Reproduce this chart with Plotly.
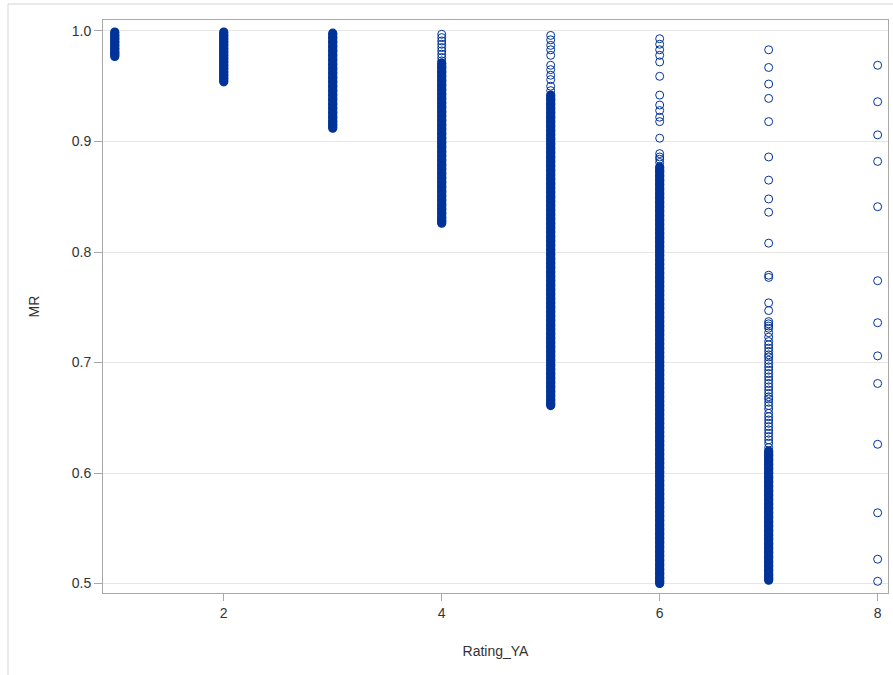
import plotly.graph_objects as go

# ---- data (MR by Rating_YA) ----
# dense, overlapping runs of observations (drawn as a continuous band)
r1_dense = [0.999, 0.996, 0.993, 0.990, 0.987, 0.984, 0.981, 0.979, 0.977]
r2_dense = [0.999, 0.996, 0.993, 0.990, 0.987, 0.984, 0.981, 0.978, 0.975, 0.972,
            0.969, 0.966, 0.963, 0.960, 0.957, 0.954]
r3_dense = [0.998, 0.994, 0.990, 0.986, 0.982, 0.978, 0.974, 0.970, 0.966, 0.962,
            0.958, 0.954, 0.950, 0.946, 0.942, 0.938, 0.934, 0.930, 0.926, 0.922,
            0.918, 0.915, 0.912]
r4_dense = [0.971, 0.967, 0.963, 0.959, 0.955, 0.951, 0.947, 0.943, 0.939, 0.935,
            0.931, 0.927, 0.923, 0.919, 0.915, 0.911, 0.907, 0.903, 0.899, 0.895,
            0.891, 0.887, 0.883, 0.879, 0.875, 0.871, 0.867, 0.863, 0.859, 0.855,
            0.851, 0.847, 0.843, 0.839, 0.835, 0.831, 0.828, 0.826]
r5_dense = [0.942, 0.938, 0.934, 0.930, 0.926, 0.922, 0.918, 0.914, 0.910, 0.906,
            0.902, 0.898, 0.894, 0.890, 0.886, 0.882, 0.878, 0.874, 0.870, 0.866,
            0.862, 0.858, 0.854, 0.850, 0.846, 0.842, 0.838, 0.834, 0.830, 0.826,
            0.822, 0.818, 0.814, 0.810, 0.806, 0.802, 0.798, 0.794, 0.790, 0.786,
            0.782, 0.778, 0.774, 0.770, 0.766, 0.762, 0.758, 0.754, 0.750, 0.746,
            0.742, 0.738, 0.734, 0.730, 0.726, 0.722, 0.718, 0.714, 0.710, 0.706,
            0.702, 0.698, 0.694, 0.690, 0.686, 0.682, 0.678, 0.674, 0.670, 0.666,
            0.663, 0.661]
r6_dense = [0.877, 0.873, 0.869, 0.865, 0.861, 0.857, 0.853, 0.849, 0.845, 0.841,
            0.837, 0.833, 0.829, 0.825, 0.821, 0.817, 0.813, 0.809, 0.805, 0.801,
            0.797, 0.793, 0.789, 0.785, 0.781, 0.777, 0.773, 0.769, 0.765, 0.761,
            0.757, 0.753, 0.749, 0.745, 0.741, 0.737, 0.733, 0.729, 0.725, 0.721,
            0.717, 0.713, 0.709, 0.705, 0.701, 0.697, 0.693, 0.689, 0.685, 0.681,
            0.677, 0.673, 0.669, 0.665, 0.661, 0.657, 0.653, 0.649, 0.645, 0.641,
            0.637, 0.633, 0.629, 0.625, 0.621, 0.617, 0.613, 0.609, 0.605, 0.601,
            0.597, 0.593, 0.589, 0.585, 0.581, 0.577, 0.573, 0.569, 0.565, 0.561,
            0.557, 0.553, 0.549, 0.545, 0.541, 0.537, 0.533, 0.529, 0.525, 0.521,
            0.517, 0.513, 0.509, 0.505, 0.502, 0.500]
r7_dense = [0.620, 0.616, 0.612, 0.608, 0.604, 0.600, 0.596, 0.592, 0.588, 0.584,
            0.580, 0.576, 0.572, 0.568, 0.564, 0.560, 0.556, 0.552, 0.548, 0.544,
            0.540, 0.536, 0.532, 0.528, 0.524, 0.520, 0.516, 0.512, 0.508, 0.505,
            0.503]

# individually visible observations
r4_points = [0.997, 0.994, 0.991, 0.988, 0.985, 0.982, 0.979, 0.976, 0.973]
r5_points = [0.996, 0.992, 0.987, 0.983, 0.978, 0.969, 0.965, 0.960, 0.956, 0.950,
             0.946]
r6_points = [0.993, 0.988, 0.983, 0.978, 0.972, 0.959, 0.942, 0.933, 0.928, 0.922,
             0.918, 0.903, 0.889, 0.886, 0.884, 0.881]
r7_points = [0.983, 0.967, 0.952, 0.939, 0.918, 0.886, 0.865, 0.848, 0.836, 0.808,
             0.779, 0.777, 0.754, 0.747, 0.737, 0.735, 0.733, 0.731, 0.727, 0.723,
             0.719, 0.716, 0.713, 0.710, 0.707, 0.705, 0.702, 0.699, 0.696, 0.693,
             0.690, 0.687, 0.684, 0.681, 0.678, 0.675, 0.672, 0.669, 0.667, 0.664,
             0.661, 0.658, 0.654, 0.651, 0.648, 0.645, 0.642, 0.639, 0.636, 0.633,
             0.630, 0.627, 0.623]
r8_points = [0.969, 0.936, 0.906, 0.882, 0.841, 0.774, 0.736, 0.706, 0.681, 0.626,
             0.564, 0.522, 0.502]

x_ticks = [2, 4, 6, 8]
y_ticks = [0.5, 0.6, 0.7, 0.8, 0.9, 1.0]

COLOR = "#003399"
FONT = "Liberation Sans, Arial, sans-serif"

dense_sets = [(1, r1_dense), (2, r2_dense), (3, r3_dense), (4, r4_dense),
              (5, r5_dense), (6, r6_dense), (7, r7_dense)]
point_sets = [(4, r4_points), (5, r5_points), (6, r6_points), (7, r7_points),
              (8, r8_points)]

fig = go.Figure()
# each dense run: overlapping markers merge into a solid band
for r, vals in dense_sets:
    fig.add_trace(go.Scatter(
        x=[r] * len(vals), y=vals, mode="lines+markers", hoverinfo="skip",
        showlegend=False,
        line=dict(color=COLOR, width=9),
        marker=dict(symbol="circle", size=8, color=COLOR,
                    line=dict(color=COLOR, width=1.2)),
    ))

px_, py_ = [], []
for r, vals in point_sets:
    px_ += [r] * len(vals)
    py_ += vals
fig.add_trace(go.Scatter(
    x=px_, y=py_, mode="markers", hoverinfo="skip", showlegend=False,
    marker=dict(symbol="circle-open", size=8, color=COLOR,
                line=dict(color=COLOR, width=1)),
))

# outer light frame around the graph
fig.add_shape(type="rect", xref="paper", yref="paper",
              x0=-0.121, x1=1.05, y0=-0.3, y1=1.0279,
              line=dict(color="#d4d4d4", width=1), fillcolor="rgba(0,0,0,0)",
              layer="below")

fig.update_layout(
    width=893, height=675,
    margin=dict(l=103, r=5, t=20, b=82),
    paper_bgcolor="white", plot_bgcolor="white",
    font=dict(family=FONT, size=13, color="#333333"),
    showlegend=False,
)
fig.update_xaxes(
    range=[0.892, 8.095], tickvals=x_ticks, ticktext=[str(v) for v in x_ticks],
    showgrid=False, zeroline=False,
    showline=True, linecolor="#a8a8a8", linewidth=1, mirror=True,
    ticks="outside", ticklen=7, tickcolor="#a8a8a8",
    tickfont=dict(size=14, color="#333333"),
    title=dict(text="Rating_YA", font=dict(size=14, color="#333333"), standoff=26),
)
fig.update_yaxes(
    range=[0.4914, 1.00995], tickvals=y_ticks, ticktext=[f"{v:.1f}" for v in y_ticks],
    showgrid=True, gridcolor="#e6e6e6", gridwidth=1, zeroline=False,
    showline=True, linecolor="#a8a8a8", linewidth=1, mirror=True,
    ticks="outside", ticklen=8, tickcolor="#a8a8a8",
    tickfont=dict(size=14, color="#333333"),
    title=dict(text="MR", font=dict(size=14, color="#333333"), standoff=28),
)

fig.write_html("out.html")
